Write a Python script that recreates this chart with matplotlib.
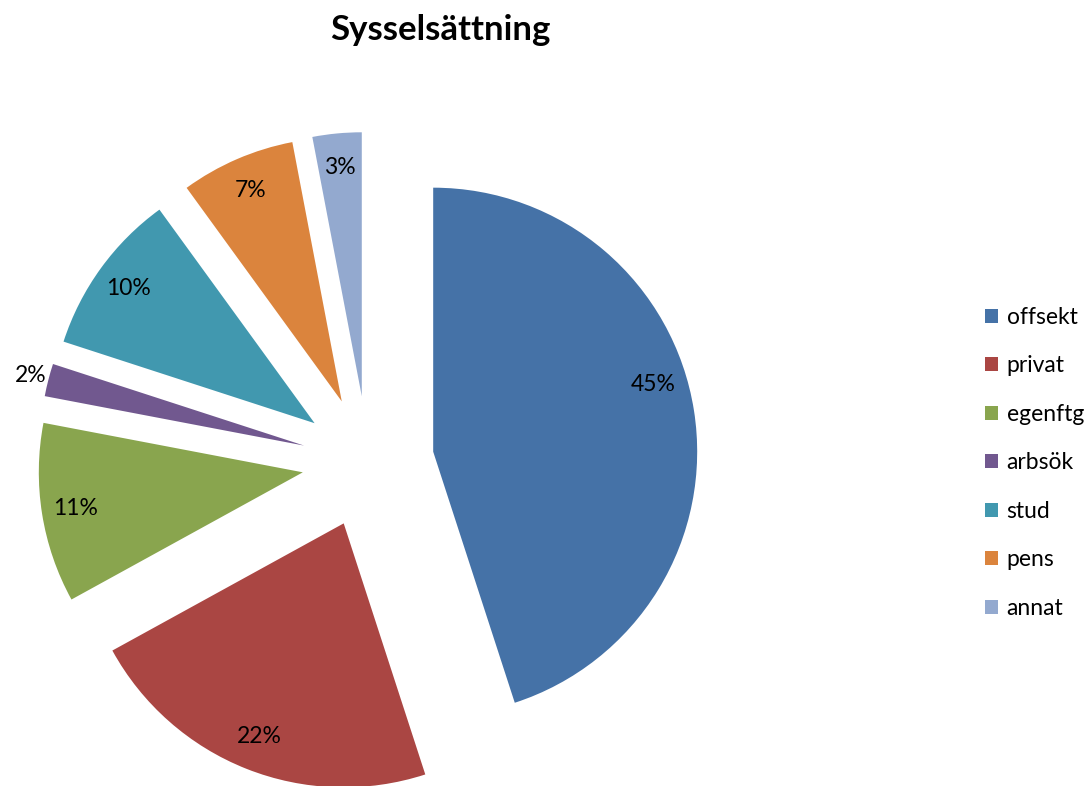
"""
pie chart - Sysselsättning
"""

import matplotlib.pyplot as plt
import numpy as np

plt.rcParams['font.family'] = ['Lato', 'DejaVu Sans']

labels = ['offsekt', 'privat', 'egenftg', 'arbsök', 'stud', 'pens', 'annat']
shares = [45, 22, 11, 2, 10, 7, 3]
colors = ['#4572A7', '#AA4643', '#89A54E', '#71588F', '#4198AF', '#DB843D', '#93A9CF']

fig = plt.figure(figsize=(10.92, 7.86), dpi=100)
ax = fig.add_axes([0, 0, 1, 1])

wedges, texts, autotexts = ax.pie(shares, colors=colors, explode=[0.25] * len(shares),
                                  startangle=90, counterclock=False,
                                  autopct='%1.0f%%', pctdistance=0.87,
                                  wedgeprops={'linewidth': 0},
                                  textprops={'fontsize': 16.5})

# move the tiny slice label outside and nudge the big one up a bit, like Excel does
for w, t, s in zip(wedges, autotexts, shares):
    ang = np.deg2rad((w.theta1 + w.theta2) / 2)
    px, py = w.center
    d = 0.87
    if s < 3:
        d = 1.07
    if s == max(shares):
        ang = ang + np.deg2rad(8)
    t.set_position((px + d * np.cos(ang), py + d * np.sin(ang)))

# pie radius = 264 px, centre at (368, 462) px in the picture
R = 264
ax.set_xlim(-368 / R, (1092 - 368) / R)
ax.set_ylim(-(786 - 462) / R, 462 / R)
ax.set_aspect('equal')
ax.axis('off')

fig.text(0.403, 0.962, 'Sysselsättning', fontsize=25, fontweight='bold', ha='center', va='center')

fig.legend(wedges, labels, loc='center left', bbox_to_anchor=(0.883, 0.411), frameon=False,
           fontsize=16.5, handlelength=0.57, handleheight=0.57, handletextpad=0.38, labelspacing=1.2)

fig.savefig('out.png', dpi=100)
